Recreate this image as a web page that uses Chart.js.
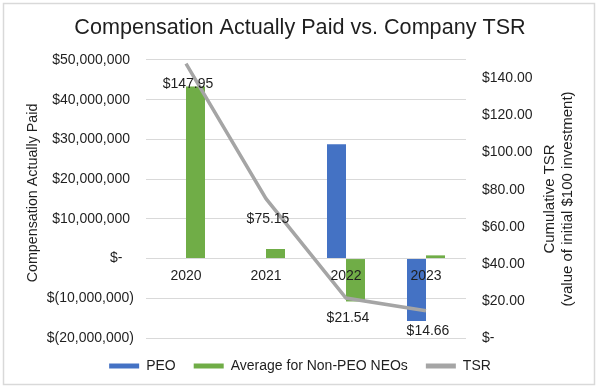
<!DOCTYPE html>
<html>
<head>
<meta charset="utf-8">
<script src="https://cdn.jsdelivr.net/npm/chart.js@4.4.0/dist/chart.umd.min.js"></script>
<style>
  html, body { margin: 0; padding: 0; background: #fff; }
  #wrap { width: 600px; height: 391px; position: relative; }
</style>
</head>
<body>
<div id="wrap"><canvas id="c" width="600" height="391"></canvas></div>
<script>
const years = ['2020', '2021', '2022', '2023'];
const peoCap = [0, 0, 28800000, -15700000];
const neoCap = [43300000, 2400000, -10800000, 800000];
const tsr = [147.95, 75.15, 21.54, 14.66];
const leftTicks = [-20000000, -10000000, 0, 10000000, 20000000, 30000000, 40000000, 50000000];
const rightTicks = [0, 20, 40, 60, 80, 100, 120, 140];
const leftTitle = 'Compensation Actually Paid';
const rightTitle = ['Cumulative TSR', '(value of initial $100 investment)'];

const FONT = "'Liberation Sans', Arial, sans-serif";
const TXT = '#1f1f1f';

function fmtLeft(v) {
  if (v === 0) return '$-   ';
  const s = Math.abs(v).toLocaleString('en-US');
  return v < 0 ? '$(' + s + ')' : '$' + s + ' ';
}
function fmtRight(v) {
  if (v === 0) return '$-';
  return '$' + v.toFixed(2);
}

function rotText(ctx, t, x, y, size) {
  ctx.save();
  ctx.font = size + 'px ' + FONT;
  ctx.fillStyle = TXT;
  ctx.textAlign = 'center';
  ctx.textBaseline = 'middle';
  ctx.translate(x, y);
  ctx.rotate(-Math.PI / 2);
  ctx.fillText(t, 0, 0);
  ctx.restore();
}

const borderPlugin = {
  id: 'outerBorder',
  beforeDraw(chart) {
    const ctx = chart.ctx;
    ctx.save();
    ctx.fillStyle = '#fff';
    ctx.fillRect(0, 0, chart.width, chart.height);
    ctx.strokeStyle = '#d9d9d9';
    ctx.lineWidth = 1.5;
    ctx.strokeRect(3.5, 3.5, 591, 381);
    ctx.restore();
  },
  afterLayout(chart) {
    const lg = chart.legend;
    if (lg) { lg.top += 3; lg.bottom += 3; }
  },
  afterDraw(chart) {
    const ctx = chart.ctx;
    const area = chart.chartArea;
    const cy = (area.top + area.bottom) / 2;
    rotText(ctx, leftTitle, 33, cy - 6, 14.3);
    const xs = [550, 568];
    rightTitle.forEach((t, i) => rotText(ctx, t, xs[i], cy, 15));
  }
};

const labelPlugin = {
  id: 'tsrLabels',
  afterDatasetsDraw(chart) {
    const ctx = chart.ctx;
    const idx = chart.data.datasets.findIndex(d => d.label === 'TSR');
    const meta = chart.getDatasetMeta(idx);
    ctx.save();
    ctx.font = '14px ' + FONT;
    ctx.fillStyle = TXT;
    ctx.textAlign = 'center';
    ctx.textBaseline = 'middle';
    meta.data.forEach((pt, i) => {
      ctx.fillText('$' + tsr[i].toFixed(2), pt.x + 2, pt.y + 20);
    });
    ctx.restore();
  }
};

new Chart(document.getElementById('c'), {
  data: {
    labels: years,
    datasets: [
      { type: 'bar', label: 'PEO', data: peoCap, backgroundColor: '#4472C4', yAxisID: 'y', order: 2,
        categoryPercentage: 0.475, barPercentage: 1.0 },
      { type: 'bar', label: 'Average for Non-PEO NEOs', data: neoCap, backgroundColor: '#70AD47', yAxisID: 'y', order: 2,
        categoryPercentage: 0.475, barPercentage: 1.0 },
      { type: 'line', label: 'TSR', data: tsr, borderColor: '#A5A5A5', backgroundColor: '#A5A5A5', borderWidth: 3.5,
        pointRadius: 0, tension: 0, yAxisID: 'y2', order: 1 }
    ]
  },
  options: {
    responsive: false,
    animation: false,
    devicePixelRatio: 1,
    layout: { padding: { top: 4, bottom: 11, left: 0, right: 0 } },
    plugins: {
      tooltip: { enabled: false },
      title: {
        display: true,
        text: 'Compensation Actually Paid vs. Company TSR',
        color: TXT,
        font: { family: FONT, size: 21.6, weight: 'normal' },
        padding: { top: 11, bottom: 19 }
      },
      legend: {
        position: 'bottom',
        labels: {
          color: TXT,
          font: { family: FONT, size: 14 },
          boxWidth: 30,
          boxHeight: 5,
          padding: 18,
          sort: (a, b) => a.datasetIndex - b.datasetIndex,
          generateLabels(chart) {
            const items = Chart.defaults.plugins.legend.labels.generateLabels(chart);
            items.forEach(it => { it.lineWidth = 0; it.strokeStyle = 'rgba(0,0,0,0)'; });
            return items;
          }
        }
      }
    },
    scales: {
      x: {
        position: { y: 0 },
        grid: { display: false },
        border: { display: false },
        ticks: { z: 1, color: TXT, font: { family: FONT, size: 14 }, padding: 1 }
      },
      y: {
        position: 'left',
        min: -20000000,
        max: 50000000,
        afterBuildTicks(axis) { axis.ticks = leftTicks.map(v => ({ value: v })); },
        afterFit(axis) { axis.width = 146; },
        grid: { color: '#d9d9d9', lineWidth: 1, drawTicks: false },
        border: { display: false },
        ticks: { color: TXT, font: { family: FONT, size: 14 }, padding: 12, callback: v => fmtLeft(v) }
      },
      y2: {
        position: 'right',
        min: 0,
        max: 150,
        afterBuildTicks(axis) { axis.ticks = rightTicks.map(v => ({ value: v })); },
        afterFit(axis) { axis.width = 134; },
        grid: { drawOnChartArea: false, drawTicks: false },
        border: { display: false },
        ticks: { color: TXT, font: { family: FONT, size: 14 }, padding: 16, callback: v => fmtRight(v) }
      }
    }
  },
  plugins: [borderPlugin, labelPlugin]
});
</script>
</body>
</html>
